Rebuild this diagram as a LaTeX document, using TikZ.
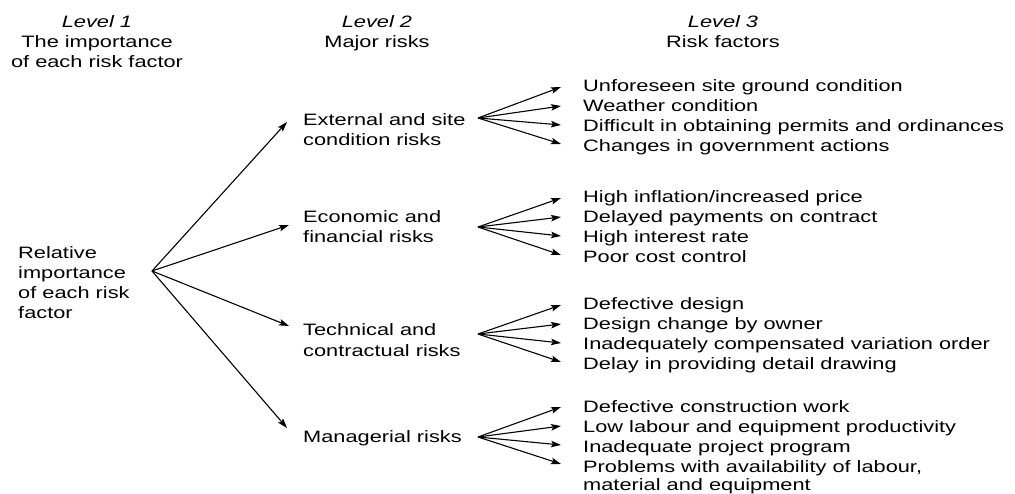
\documentclass[tikz,border=0pt]{standalone}
\usepackage{fontspec}
\setmainfont{Liberation Sans}[FakeStretch=1.32]
\usetikzlibrary{arrows.meta}
\begin{document}
\begin{tikzpicture}[x=1pt,y=-1pt,
  lab/.style={anchor=base west, inner sep=0pt, font=\fontsize{16.5}{20}\selectfont},
  hdr/.style={anchor=base, inner sep=0pt, font=\fontsize{16.5}{20}\selectfont},
  arr/.style={-{Stealth[length=10pt,width=6.5pt,inset=2pt]}, line width=1.1pt}]
\useasboundingbox (0,0) rectangle (1015,494);
% headers
\node[hdr] (h1a) at (97,28) {\itshape Level 1};
\node[hdr] (h1b) at (97,48) {The importance};
\node[hdr] (h1c) at (97,68) {of each risk factor};
\node[hdr] (h2a) at (377,28) {\itshape Level 2};
\node[hdr] (h2b) at (377,48) {Major risks};
\node[hdr] (h3a) at (723,28) {\itshape Level 3};
\node[hdr] (h3b) at (723,48) {Risk factors};
% level 1
\node[lab] (r1) at (18,259) {Relative};
\node[lab] (r2) at (18,279) {importance};
\node[lab] (r3) at (18,299) {of each risk};
\node[lab] (r4) at (18,319) {factor};
\coordinate (o) at (152,271);
% level 2
\node[lab] (ea) at (303,126) {External and site};
\node[lab] (eb) at (303,146) {condition risks};
\node[lab] (fa) at (303,223) {Economic and};
\node[lab] (fb) at (303,243) {financial risks};
\node[lab] (ta) at (303,336) {Technical and};
\node[lab] (tb) at (303,356) {contractual risks};
\node[lab] (ma) at (303,442) {Managerial risks};
\coordinate (te) at (287,122);
\coordinate (tf) at (289,225);
\coordinate (tt) at (289,326);
\coordinate (tm) at (287,428);
\foreach \t in {te,tf,tt,tm} \draw[arr] (o) -- (\t);
% fan origins
\coordinate (oe) at (478,118);
\coordinate (of) at (478,227);
\coordinate (ot) at (478,334);
\coordinate (om) at (478,437);
% level 3
\node[lab] (e1) at (583,92) {Unforeseen site ground condition};
\node[lab] (e2) at (583,112) {Weather condition};
\node[lab] (e3) at (583,132) {Difficult in obtaining permits and ordinances};
\node[lab] (e4) at (583,152) {Changes in government actions};
\node[lab] (f1) at (583,203) {High inflation/increased price};
\node[lab] (f2) at (583,223) {Delayed payments on contract};
\node[lab] (f3) at (583,243) {High interest rate};
\node[lab] (f4) at (583,263) {Poor cost control};
\node[lab] (t1) at (583,310) {Defective design};
\node[lab] (t2) at (583,330) {Design change by owner};
\node[lab] (t3) at (583,350) {Inadequately compensated variation order};
\node[lab] (t4) at (583,370) {Delay in providing detail drawing};
\node[lab] (m1) at (583,412) {Defective construction work};
\node[lab] (m2) at (583,432) {Low labour and equipment productivity};
\node[lab] (m3) at (583,452) {Inadequate project program};
\node[lab] (m4) at (583,472) {Problems with availability of labour,};
\node[lab] (m5) at (583,490) {material and equipment};
\foreach \g/\y in {e/87,f/198,t/305,m/407}{
  \foreach \k in {0,1,2,3}{
    \coordinate (p\g\k) at (561,\y+\k*19);
    \draw[arr] (o\g) -- (p\g\k);
  }
}
\end{tikzpicture}
\end{document}
